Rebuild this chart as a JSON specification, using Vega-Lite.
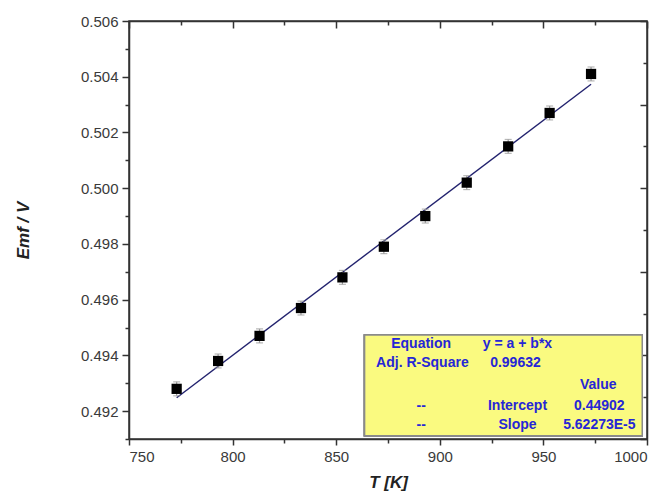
{
  "$schema": "https://vega.github.io/schema/vega-lite/v6.json",
  "width": 518,
  "height": 418,
  "autosize": {"type": "none"},
  "padding": {"left": 129, "top": 21, "right": 20, "bottom": 57},
  "background": "white",
  "config": {
    "view": {"stroke": "#333333", "strokeWidth": 1.5},
    "axis": {
      "grid": false,
      "labelFont": "Liberation Sans",
      "titleFont": "Liberation Sans",
      "domainColor": "#333333",
      "domainWidth": 1.5,
      "tickColor": "#333333",
      "tickWidth": 1.5,
      "labelColor": "#3a3a3a",
      "labelFontSize": 15
    }
  },
  "datasets": {
    "points": [
      {"T": 773, "Emf": 0.4928, "lo": 0.49255, "hi": 0.49305},
      {"T": 793, "Emf": 0.4938, "lo": 0.49355, "hi": 0.49405},
      {"T": 813, "Emf": 0.4947, "lo": 0.49445, "hi": 0.49495},
      {"T": 833, "Emf": 0.4957, "lo": 0.49545, "hi": 0.49595},
      {"T": 853, "Emf": 0.4968, "lo": 0.49655, "hi": 0.49705},
      {"T": 873, "Emf": 0.4979, "lo": 0.49765, "hi": 0.49815},
      {"T": 893, "Emf": 0.4990, "lo": 0.49875, "hi": 0.49925},
      {"T": 913, "Emf": 0.5002, "lo": 0.49995, "hi": 0.50045},
      {"T": 933, "Emf": 0.5015, "lo": 0.50125, "hi": 0.50175},
      {"T": 953, "Emf": 0.5027, "lo": 0.50245, "hi": 0.50295},
      {"T": 973, "Emf": 0.5041, "lo": 0.50385, "hi": 0.50435}
    ],
    "fit": [
      {"T": 773, "Emf": 0.49248},
      {"T": 973, "Emf": 0.50373}
    ],
    "notes": [
      {"T": 891, "Emf": 0.49441, "label": "Equation"},
      {"T": 937.5, "Emf": 0.49441, "label": "y = a + b*x"},
      {"T": 891.6, "Emf": 0.49373, "label": "Adj. R-Square"},
      {"T": 936.5, "Emf": 0.49373, "label": "0.99632"},
      {"T": 976.5, "Emf": 0.49294, "label": "Value"},
      {"T": 891, "Emf": 0.49219, "label": "--"},
      {"T": 937.5, "Emf": 0.49219, "label": "Intercept"},
      {"T": 977, "Emf": 0.49219, "label": "0.44902"},
      {"T": 891, "Emf": 0.49151, "label": "--"},
      {"T": 937.5, "Emf": 0.49151, "label": "Slope"},
      {"T": 977, "Emf": 0.49151, "label": "5.62273E-5"}
    ]
  },
  "layer": [
    {
      "data": {"name": "points"},
      "mark": {"type": "rect", "fill": "#FAFA80", "stroke": "#8a8a8a", "strokeWidth": 1.5},
      "encoding": {
        "x": {"datum": 863.7, "type": "quantitative", "axis": null, "scale": {"domain": [750, 1000], "nice": false, "zero": false}},
        "x2": {"datum": 997.7},
        "y": {"datum": 0.49473, "type": "quantitative", "axis": null, "scale": {"domain": [0.491, 0.506], "nice": false, "zero": false}},
        "y2": {"datum": 0.49112}
      }
    },
    {
      "data": {"name": "fit"},
      "mark": {"type": "line", "color": "#22226e", "strokeWidth": 1.4},
      "encoding": {
        "x": {
          "field": "T", "type": "quantitative",
          "axis": {
            "orient": "top", "title": null, "labels": false,
            "values": [750, 775, 800, 825, 850, 875, 900, 925, 950, 975, 1000],
            "tickSize": {"condition": {"test": "datum.value % 50 === 0", "value": -7}, "value": -4}
          }
        },
        "y": {
          "field": "Emf", "type": "quantitative",
          "axis": {
            "orient": "right", "title": null, "labels": false,
            "values": [0.491, 0.4925, 0.494, 0.4955, 0.497, 0.4985, 0.5, 0.5015, 0.503, 0.5045, 0.506],
            "tickSize": {"condition": {"test": "(round(datum.value*10000) - 4910) % 30 === 0", "value": -7}, "value": -4}
          }
        }
      }
    },
    {
      "data": {"name": "points"},
      "mark": {"type": "errorbar", "color": "#9a9a9a", "thickness": 1.2, "ticks": {"size": 7, "color": "#9a9a9a"}},
      "encoding": {
        "x": {"field": "T", "type": "quantitative", "axis": null},
        "y": {"field": "lo", "type": "quantitative", "axis": null},
        "y2": {"field": "hi"}
      }
    },
    {
      "data": {"name": "points"},
      "mark": {"type": "square", "size": 105, "color": "#000000", "opacity": 1},
      "encoding": {
        "x": {
          "field": "T", "type": "quantitative",
          "axis": {
            "orient": "bottom",
            "title": "T [K]",
            "titleFontSize": 17, "titleFontWeight": "bold", "titleFontStyle": "italic", "titleColor": "#222222",
            "titlePadding": 10,
            "values": [750, 775, 800, 825, 850, 875, 900, 925, 950, 975, 1000],
            "format": "d",
            "labelExpr": "datum.value % 50 === 0 ? datum.label : ''",
            "labelPadding": 4,
            "tickSize": {"condition": {"test": "datum.value % 50 === 0", "value": 6}, "value": 4}
          }
        },
        "y": {
          "field": "Emf", "type": "quantitative",
          "axis": {
            "orient": "left",
            "title": "Emf / V",
            "titleFontSize": 17, "titleFontWeight": "bold", "titleFontStyle": "italic", "titleColor": "#222222",
            "titlePadding": 48,
            "values": [0.491, 0.492, 0.493, 0.494, 0.495, 0.496, 0.497, 0.498, 0.499, 0.5, 0.501, 0.502, 0.503, 0.504, 0.505, 0.506],
            "format": ".3f",
            "labelExpr": "round(datum.value*1000) % 2 === 0 ? datum.label : ''",
            "labelPadding": 4,
            "tickSize": {"condition": {"test": "round(datum.value*1000) % 2 === 0", "value": 7}, "value": 4}
          }
        }
      }
    },
    {
      "data": {"name": "notes"},
      "mark": {"type": "text", "font": "Liberation Sans", "fontWeight": "bold", "fontSize": 14, "color": "#2626D6", "align": "center", "baseline": "middle"},
      "encoding": {
        "x": {"field": "T", "type": "quantitative", "axis": null},
        "y": {"field": "Emf", "type": "quantitative", "axis": null},
        "text": {"field": "label"}
      }
    }
  ],
  "resolve": {"axis": {"x": "independent", "y": "independent"}}
}
